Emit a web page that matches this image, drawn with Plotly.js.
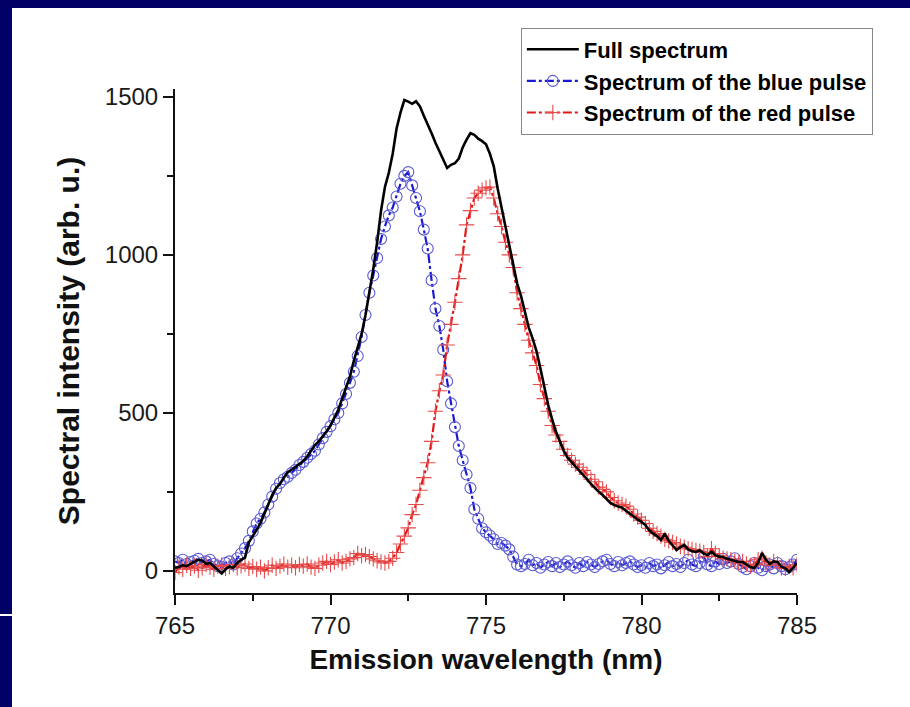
<!DOCTYPE html>
<html>
<head>
<meta charset="utf-8">
<script src="https://cdn.plot.ly/plotly-3.0.1.min.js"></script>
<style>
  html, body { margin: 0; padding: 0; width: 910px; height: 707px; overflow: hidden; background: #000066; }
  #chart { position: absolute; left: 12px; top: 8px; width: 898px; height: 699px; background: #ffffff; }
  #rule { position: absolute; left: 0; top: 614px; width: 12px; height: 2px; background: #ffffff; }
</style>
</head>
<body>
<div id="chart"></div>
<div id="rule"></div>
<script>
// Emission wavelength (nm)
const wavelength = [
  765.000, 765.125, 765.250, 765.375, 765.500, 765.625, 765.750, 765.875, 766.000, 766.125,
  766.250, 766.375, 766.500, 766.625, 766.750, 766.875, 767.000, 767.125, 767.250, 767.375,
  767.500, 767.625, 767.750, 767.875, 768.000, 768.125, 768.250, 768.375, 768.500, 768.625,
  768.750, 768.875, 769.000, 769.125, 769.250, 769.375, 769.500, 769.625, 769.750, 769.875,
  770.000, 770.125, 770.250, 770.375, 770.500, 770.625, 770.750, 770.875, 771.000, 771.125,
  771.250, 771.375, 771.500, 771.625, 771.750, 771.875, 772.000, 772.125, 772.250, 772.375,
  772.500, 772.625, 772.750, 772.875, 773.000, 773.125, 773.250, 773.375, 773.500, 773.625,
  773.750, 773.875, 774.000, 774.125, 774.250, 774.375, 774.500, 774.625, 774.750, 774.875,
  775.000, 775.125, 775.250, 775.375, 775.500, 775.625, 775.750, 775.875, 776.000, 776.125,
  776.250, 776.375, 776.500, 776.625, 776.750, 776.875, 777.000, 777.125, 777.250, 777.375,
  777.500, 777.625, 777.750, 777.875, 778.000, 778.125, 778.250, 778.375, 778.500, 778.625,
  778.750, 778.875, 779.000, 779.125, 779.250, 779.375, 779.500, 779.625, 779.750, 779.875,
  780.000, 780.125, 780.250, 780.375, 780.500, 780.625, 780.750, 780.875, 781.000, 781.125,
  781.250, 781.375, 781.500, 781.625, 781.750, 781.875, 782.000, 782.125, 782.250, 782.375,
  782.500, 782.625, 782.750, 782.875, 783.000, 783.125, 783.250, 783.375, 783.500, 783.625,
  783.750, 783.875, 784.000, 784.125, 784.250, 784.375, 784.500, 784.625, 784.750, 784.875,
  785.000
];

// Full spectrum (arb. u.)
const fullSpectrum = [
  10, 12, 18, 15, 22, 28, 35, 33, 22, 25,
  14, 2, -8, 5, 14, 10, 25, 35, 42, 90,
  108, 130, 152, 180, 210, 240, 262, 275, 295, 312,
  320, 330, 340, 348, 362, 380, 398, 410, 425, 442,
  460, 485, 510, 545, 580, 615, 665, 710, 750, 810,
  880, 955, 1040, 1140, 1215, 1260, 1320, 1400, 1450, 1490,
  1485, 1478, 1486, 1470, 1440, 1415, 1385, 1355, 1330, 1300,
  1275, 1285, 1290, 1305, 1340, 1365, 1385, 1380, 1368, 1360,
  1350, 1320, 1280, 1210, 1150, 1080, 1030, 960, 910, 870,
  815, 770, 735, 695, 640, 580, 525, 480, 440, 410,
  380, 358, 345, 330, 318, 305, 290, 275, 262, 250,
  240, 228, 215, 208, 204, 200, 190, 182, 172, 162,
  155, 145, 128, 118, 110, 98, 118, 95, 80, 66,
  75, 82, 68, 62, 60, 65, 55, 50, 60, 50,
  45, 44, 38, 35, 30, 28, 28, 20, 12, 9,
  25, 57, 35, 22, 30, 28, 13, 8, -3, 10,
  25
];

// Spectrum of the blue pulse (arb. u.)
const bluePulse = [
  30, 25, 35, 22, 28, 32, 38, 25, 30, 35,
  22, 15, 12, 25, 30, 20, 40, 55, 72, 95,
  125, 150, 165, 185, 210, 235, 260, 278, 290, 298,
  310, 320, 335, 345, 358, 370, 380, 400, 420, 440,
  458, 480, 500, 530, 560, 595, 630, 680, 740, 810,
  880, 935, 990, 1050, 1090, 1125, 1150, 1185, 1225, 1250,
  1262, 1220, 1180, 1138, 1080, 1020, 920, 830, 775, 700,
  600, 530, 455, 395, 350, 305, 262, 195, 165, 135,
  122, 112, 100, 85, 88, 80, 68, 45, 20, 15,
  22, 35, 18, 25, 10, 20, 28, 15, 25, 12,
  20, 30, 18, 10, 25, 15, 28, 20, 12, 22,
  30, 35, 22, 15, 28, 18, 25, 30, 20, 12,
  18, 10, 25, 15, 20, 8, 18, 28, 15, 22,
  12, 25, 35, 20, 15, 25, 45, 20, 15, 30,
  22, 38, 25, 30, 40, 22, 12, 5, 15, 25,
  10, 2, 15, 20, 8, 25, 15, 5, 12, 20,
  35
];

// Spectrum of the red pulse (arb. u.)
const redPulse = [
  -5, 12, 5, 18, 8, 15, 2, 10, 20, 12,
  5, 15, 18, 8, 14, 20, 10, 16, 22, 8,
  14, 5, 12, 0, 10, 18, 8, 15, 22, 12,
  18, 10, 20, 15, 22, 12, 8, 18, 25, 30,
  20, 28, 35, 25, 30, 38, 42, 55, 48, 52,
  45, 38, 32, 28, 25, 30, 40, 58, 85, 110,
  136, 178, 210, 255, 295, 342, 410, 505, 570, 620,
  715, 780, 850, 925, 1000, 1095, 1140, 1180, 1195, 1205,
  1212, 1215, 1180, 1130, 1090, 1040, 1000, 960, 880, 830,
  780, 730, 690, 650, 590, 545, 505, 460, 430, 410,
  385, 365, 350, 338, 328, 318, 305, 290, 282, 265,
  258, 250, 232, 222, 215, 210, 205, 195, 180, 170,
  160, 150, 135, 125, 118, 110, 100, 95, 90, 85,
  78, 75, 70, 68, 65, 62, 58, 45, 70, 55,
  48, 40, 38, 35, 30, 25, 30, 22, 15, 20,
  35, 40, 25, 18, 30, 22, 10, 8, 15, 10,
  20
];

const seriesNames = ['Full spectrum', 'Spectrum of the blue pulse', 'Spectrum of the red pulse'];
const xTickVals = [765, 770, 775, 780, 785];
const yTickVals = [0, 500, 1000, 1500];

const FONT = 'Liberation Sans, Arial, Helvetica, sans-serif';

const traces = [
  {
    x: wavelength, y: bluePulse, name: seriesNames[1], type: 'scatter', mode: 'lines+markers',
    legendrank: 2,
    line: { color: '#1a1ad0', width: 2.2, dash: 'dashdot' },
    marker: { symbol: 'circle-open', size: 11, color: '#5a5ad2', line: { width: 1.1, color: '#5a5ad2' } }
  },
  {
    x: wavelength, y: redPulse, name: seriesNames[2], type: 'scatter', mode: 'lines+markers',
    legendrank: 3,
    line: { color: '#e01818', width: 2.2, dash: 'dashdot' },
    marker: { symbol: 'cross-thin-open', size: 11, color: '#e84a4a', line: { width: 1.1, color: '#e84a4a' } }
  },
  {
    x: wavelength, y: fullSpectrum, name: seriesNames[0], type: 'scatter', mode: 'lines',
    legendrank: 1,
    line: { color: '#000000', width: 2.6 }
  }
];

const axisCommon = {
  showline: true, linecolor: '#111', linewidth: 2,
  ticks: 'outside', ticklen: 10, tickwidth: 2, tickcolor: '#111',
  showgrid: false, zeroline: false, mirror: false,
  tickfont: { family: FONT, size: 24, color: '#1a1a1a' },
  automargin: false
};

const layout = {
  width: 898, height: 699,
  paper_bgcolor: '#ffffff', plot_bgcolor: '#ffffff',
  margin: { l: 163, r: 113, t: 81, b: 114 },
  showlegend: true,
  xaxis: Object.assign({}, axisCommon, {
    range: [765, 785], tickmode: 'array', tickvals: xTickVals,
    minor: { ticks: 'outside', ticklen: 6, tickwidth: 2, tickcolor: '#111', dtick: 2.5, tick0: 765 },
    title: { text: 'Emission wavelength (nm)', font: { family: FONT, size: 28, weight: 'bold', color: '#111' }, standoff: 12 }
  }),
  yaxis: Object.assign({}, axisCommon, {
    range: [-70, 1525], tickmode: 'array', tickvals: yTickVals,
    minor: { ticks: 'outside', ticklen: 6, tickwidth: 2, tickcolor: '#111', dtick: 250, tick0: 0 },
    title: { text: 'Spectral intensity (arb. u.)', font: { family: FONT, size: 30, weight: 'bold', color: '#111' }, standoff: 16 }
  }),
  legend: {
    x: 0.556, y: 1.122, xanchor: 'left', yanchor: 'top',
    bgcolor: '#ffffff', bordercolor: '#888888', borderwidth: 1,
    font: { family: FONT, size: 22, weight: 'bold', color: '#000' },
    itemwidth: 52, tracegroupgap: 0
  }
};

Plotly.newPlot('chart', traces, layout, { displayModeBar: false, staticPlot: true });
</script>
</body>
</html>
